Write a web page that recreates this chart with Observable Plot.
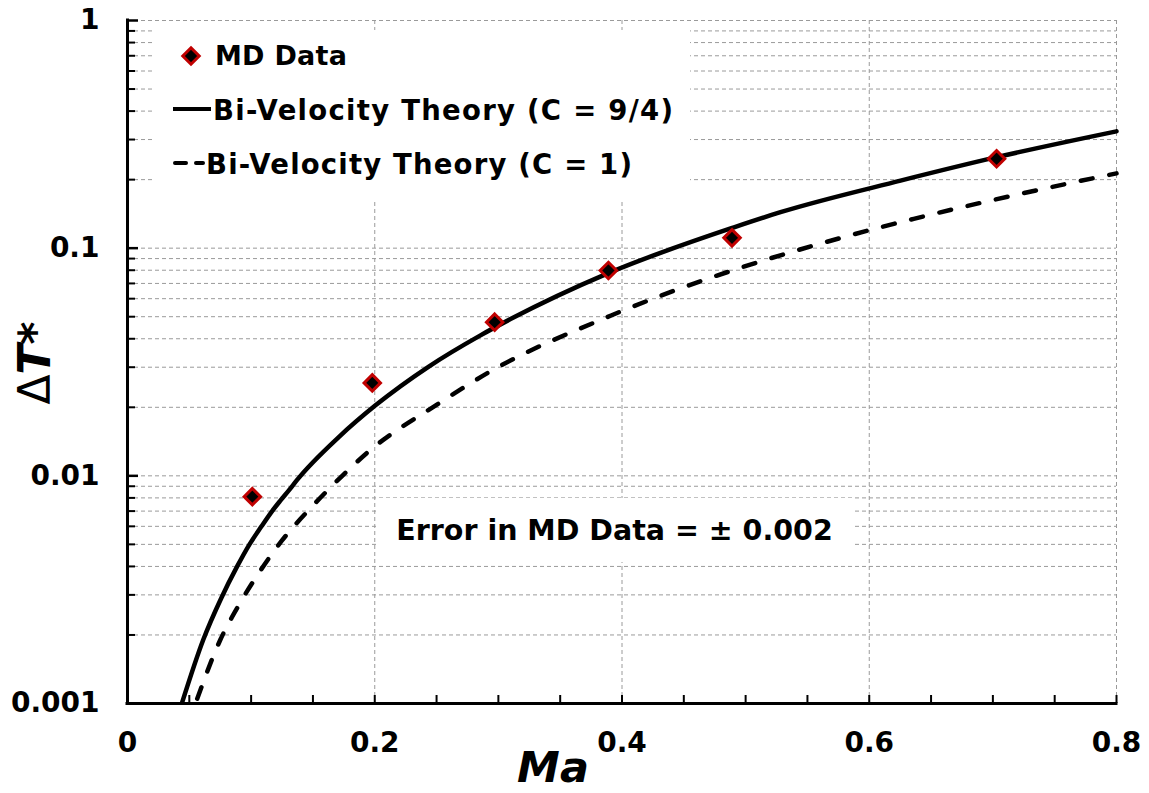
<!DOCTYPE html>
<html><head><meta charset="utf-8">
<script src="https://cdn.jsdelivr.net/npm/d3@7"></script>
<script src="https://cdn.jsdelivr.net/npm/@observablehq/plot@0.6"></script>
<style>html,body{margin:0;padding:0;background:#fff;} svg{display:block}</style>
</head><body><div id="chart"></div>
<script>
// MD data points (Ma, ΔT*)
const maPoints = [0.101, 0.198, 0.297, 0.389, 0.489, 0.703];
const dtPoints = [0.0081, 0.0256, 0.0473, 0.0798, 0.111, 0.247];

// Bi-Velocity Theory (C = 9/4)
const solidMa = [0.0442, 0.0612, 0.0758, 0.0887, 0.0987, 0.1084, 0.117, 0.1238, 0.131, 0.1372, 0.1709, 0.2006, 0.2437, 0.2855, 0.3098, 0.3885, 0.49, 0.5282, 0.6253, 0.703, 0.8];
const solidDT = [0.00101, 0.0019, 0.0029, 0.004, 0.005, 0.006, 0.007, 0.0078, 0.0087, 0.0096, 0.0148, 0.0204, 0.0302, 0.0414, 0.0488, 0.0775, 0.1232, 0.1439, 0.198, 0.251, 0.326];

// Bi-Velocity Theory (C = 1)
const dashedMa = [0.0564, 0.075, 0.09, 0.107, 0.125, 0.15, 0.1737, 0.1944, 0.2518, 0.2938, 0.3912, 0.5992, 0.636, 0.7642, 0.8];
const dashedDT = [0.00105, 0.0019, 0.0027, 0.0038, 0.0052, 0.0074, 0.01, 0.0127, 0.0208, 0.0288, 0.0506, 0.1196, 0.1345, 0.194, 0.213];

// ticks
const xTickLabels = [0, 0.2, 0.4, 0.6, 0.8];
const xMinorTicks = [0.05, 0.1, 0.15, 0.2, 0.25, 0.3, 0.35, 0.4, 0.45, 0.5, 0.55, 0.6, 0.65, 0.7, 0.75, 0.8];
const yTickLabels = [0.001, 0.01, 0.1, 1];
const yMinorTicks = [0.002, 0.003, 0.004, 0.005, 0.006, 0.007, 0.008, 0.009,
                     0.02, 0.03, 0.04, 0.05, 0.06, 0.07, 0.08, 0.09,
                     0.2, 0.3, 0.4, 0.5, 0.6, 0.7, 0.8, 0.9];
const yGridLines = yMinorTicks.concat([0.01, 0.1, 1]);
const xGridLines = [0.2, 0.4, 0.6, 0.8];

const legendLabels = ["MD Data", "Bi-Velocity Theory (C = 9/4)", "Bi-Velocity Theory (C = 1)"];
const xTitle = "Ma";
const noteText = "Error in MD Data = \u00B1 0.002";

const W = 1149, H = 793, mL = 127, mR = 33, mT = 20, mB = 90;
const plotW = W - mL - mR, plotH = H - mT - mB;
const gridColor = "#9a9a9a";
const font = "'DejaVu Sans', Verdana, sans-serif";
const red = "#c00000";
const dotR = 7.4;

const pts = maPoints.map((m, i) => ({ma: m, dt: dtPoints[i]}));
const solid = solidMa.map((m, i) => ({ma: m, dt: solidDT[i]}));
const dashed = dashedMa.map((m, i) => ({ma: m, dt: dashedDT[i]}));

const chart = Plot.plot({
  width: W, height: H,
  marginLeft: mL, marginRight: mR, marginTop: mT, marginBottom: mB,
  style: {fontFamily: font, fontWeight: "bold", fontSize: "28px", background: "#fff", color: "#000"},
  x: {domain: [0, 0.8]},
  y: {type: "log", domain: [0.001, 1]},
  marks: [
    Plot.gridY(yGridLines, {stroke: gridColor, strokeOpacity: 1, strokeWidth: 1, strokeDasharray: "4,3"}),
    Plot.gridX(xGridLines, {stroke: gridColor, strokeOpacity: 1, strokeWidth: 1, strokeDasharray: "4,3"}),
    Plot.tickY(yMinorTicks, {y: d => d, insetRight: plotW - 8, stroke: "#000", strokeWidth: 2}),
    Plot.tickY(yTickLabels, {y: d => d, insetRight: plotW - 11, stroke: "#000", strokeWidth: 2.5}),
    Plot.tickX(xMinorTicks, {x: d => d, insetTop: plotH - 8, stroke: "#000", strokeWidth: 2}),
    Plot.ruleX([0], {stroke: "#000", strokeWidth: 3, strokeLinecap: "square"}),
    Plot.ruleY([0.001], {stroke: "#000", strokeWidth: 3, strokeLinecap: "square"}),
    Plot.axisY(yTickLabels, {tickSize: 0, tickPadding: 28, tickFormat: d => String(d), label: null, fontSize: 28, fontWeight: "bold"}),
    Plot.axisX(xTickLabels, {tickSize: 0, tickPadding: 29, tickFormat: d => String(d), label: null, fontSize: 28, fontWeight: "bold"}),
    Plot.line(solid, {x: "ma", y: "dt", curve: "monotone-x", stroke: "#000", strokeWidth: 4.5}),
    Plot.line(dashed, {x: "ma", y: "dt", curve: "monotone-x", stroke: "#000", strokeWidth: 4.5, strokeDasharray: "12,17", strokeLinecap: "round"}),
    Plot.dot(pts, {x: "ma", y: "dt", symbol: "diamond2", r: dotR, fill: "#000", stroke: red, strokeWidth: 3})
  ]
});
document.getElementById("chart").appendChild(chart);

// overlays: legend, note, axis titles
const svg = d3.select(chart);
const g = svg.append("g").attr("font-family", font).attr("font-weight", "bold").attr("fill", "#000").attr("text-anchor", "start");

// legend
g.append("rect").attr("x", 152).attr("y", 30).attr("width", 538).attr("height", 170).attr("fill", "#fff");
g.append("path").attr("d", d3.symbol(d3.symbolDiamond2, Math.PI * dotR * dotR)())
  .attr("transform", "translate(191,56)").attr("fill", "#000").attr("stroke", red).attr("stroke-width", 3);
g.append("text").attr("x", 215).attr("y", 65).attr("font-size", 27).attr("text-anchor", "start").attr("textLength", 132).text(legendLabels[0]);
g.append("line").attr("x1", 173).attr("x2", 211).attr("y1", 109).attr("y2", 109).attr("stroke", "#000").attr("stroke-width", 4);
g.append("text").attr("x", 213).attr("y", 120).attr("font-size", 27.5).attr("text-anchor", "start").attr("textLength", 460).text(legendLabels[1]);
g.append("line").attr("x1", 175).attr("x2", 203).attr("y1", 163).attr("y2", 163).attr("stroke", "#000").attr("stroke-width", 4)
  .attr("stroke-dasharray", "11,10").attr("stroke-linecap", "round");
g.append("text").attr("x", 206).attr("y", 174).attr("font-size", 27.5).attr("text-anchor", "start").attr("textLength", 426).text(legendLabels[2]);

// note
g.append("rect").attr("x", 377).attr("y", 498).attr("width", 476).attr("height", 64).attr("fill", "#fff");
g.append("text").attr("x", 614.5).attr("y", 539.5).attr("text-anchor", "middle").attr("font-size", 28.5).text(noteText);

// axis titles
g.append("text").attr("x", 553).attr("y", 782).attr("text-anchor", "middle").attr("font-size", 43)
  .attr("font-style", "italic").text(xTitle);
const yt = g.append("text").attr("transform", "translate(50,363) rotate(-90)").attr("text-anchor", "middle").attr("font-size", 44);
yt.append("tspan").attr("font-weight", "normal").text("\u0394");
yt.append("tspan").attr("font-style", "italic").text("T");
yt.append("tspan").text("*");
</script>
</body></html>
